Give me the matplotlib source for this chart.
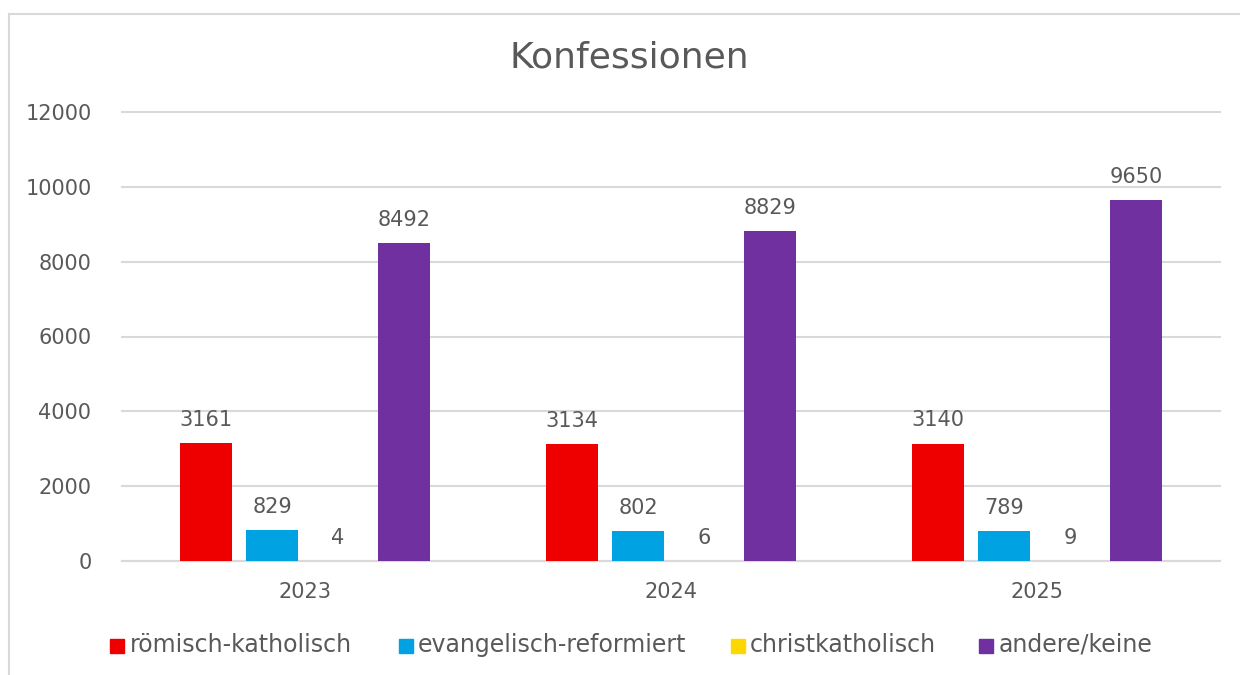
import matplotlib
matplotlib.use("Agg")
import matplotlib.pyplot as plt
from matplotlib.lines import Line2D
from matplotlib.patches import Rectangle
import numpy as np

years = ["2023", "2024", "2025"]
series = ["römisch-katholisch", "evangelisch-reformiert", "christkatholisch", "andere/keine"]
roemisch = [3161, 3134, 3140]
evangelisch = [829, 802, 789]
christkath = [4, 6, 9]
andere = [8492, 8829, 9650]
colors = ["#EE0000", "#00A2E1", "#FFD700", "#7030A0"]
yticks = [0, 2000, 4000, 6000, 8000, 10000, 12000]

plt.rcParams['font.family'] = ['DejaVu Sans']
txt = "#595959"
W, H = 1240, 675

fig = plt.figure(figsize=(12.4, 6.75), dpi=100)
ax = fig.add_axes([122/W, 1-561/H, (1220-122)/W, (561-112)/H])

values = [roemisch, evangelisch, christkath, andere]
x = np.arange(len(years))
step = 66/366
width = 52/366
for i, (name, vals, c) in enumerate(zip(series, values, colors)):
    pos = x + (i - 1.5) * step
    ax.bar(pos, vals, width=width, color=c, label=name, zorder=3)
    for p, v in zip(pos, vals):
        ax.text(p, v + 350, str(v), ha='center', va='bottom', fontsize=15, color=txt)

ax.set_xlim(-0.5, 2.5)
ax.set_ylim(0, 12000)
ax.set_yticks(yticks)
ax.set_yticklabels([str(t) for t in yticks], fontsize=15, color=txt)
ax.set_xticks(x)
ax.set_xticklabels(years, fontsize=15, color=txt)
ax.tick_params(axis='both', length=0)
ax.tick_params(axis='y', pad=22)
ax.tick_params(axis='x', pad=15)
ax.grid(axis='y', color='#d9d9d9', linewidth=1.5, zorder=0)
for gl in ax.get_ygridlines():
    gl.set_clip_on(False)
for s in ['top', 'right', 'left']:
    ax.spines[s].set_visible(False)
ax.spines['bottom'].set_color('#d9d9d9')
ax.spines['bottom'].set_linewidth(1.5)

fig.text(629/W, 1-58/H, "Konfessionen", ha='center', va='center', fontsize=26, color=txt)

# legend, manually placed
marker_x = [110, 399, 731, 979]
text_x = [130, 418, 750, 999]
for mx, tx, c, name in zip(marker_x, text_x, colors, series):
    fig.add_artist(Rectangle((mx/W, 1-653/H), 14/W, 14/H, color=c, transform=fig.transFigure))
    fig.text(tx/W, 1-645/H, name, ha='left', va='center', fontsize=17, color=txt)

# chart border
fig.add_artist(Line2D([9/W, 9/W], [0, 1-14/H], color='#d9d9d9', lw=1.5, transform=fig.transFigure))
fig.add_artist(Line2D([9/W, 1], [1-14/H, 1-14/H], color='#d9d9d9', lw=1.5, transform=fig.transFigure))

fig.savefig("out.png", dpi=100)
